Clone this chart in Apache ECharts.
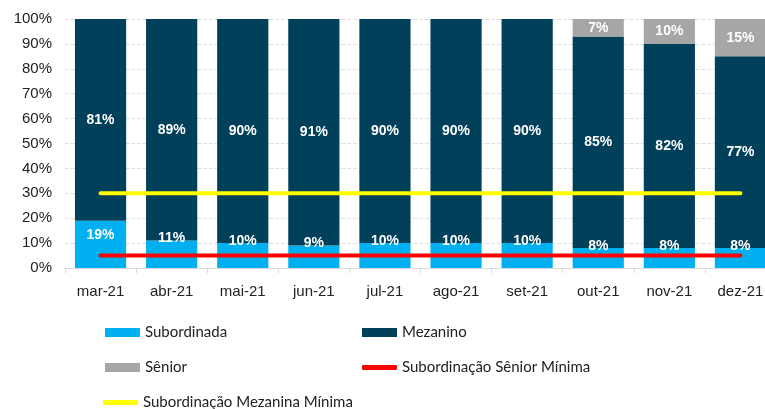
<!DOCTYPE html>
<html>
<head>
<meta charset="utf-8">
<script src="https://cdn.jsdelivr.net/npm/echarts@6/dist/echarts.min.js"></script>
<style>
  html, body { margin: 0; padding: 0; background: #fff; }
  #chart { width: 765px; height: 409px; }
</style>
</head>
<body>
<div id="chart"></div>
<script>
const categories = ['mar-21', 'abr-21', 'mai-21', 'jun-21', 'jul-21', 'ago-21', 'set-21', 'out-21', 'nov-21', 'dez-21'];
const subordinada = [19, 11, 10, 9, 10, 10, 10, 8, 8, 8];
const mezanino = [81, 89, 90, 91, 90, 90, 90, 85, 82, 77];
const senior = [0, 0, 0, 0, 0, 0, 0, 7, 10, 15];
const minSenior = [5, 5, 5, 5, 5, 5, 5, 5, 5, 5];
const minMezanino = [30, 30, 30, 30, 30, 30, 30, 30, 30, 30];

const font = '"Liberation Sans Narrow", "Liberation Sans", Arial, sans-serif';

const barLabel = {
  show: true,
  position: 'inside',
  color: '#fff',
  fontWeight: 'bold',
  fontSize: 14,
  fontFamily: font,
  formatter: p => p.value > 0 ? p.value + '%' : ''
};

// small segments: Excel puts the label near the top edge
const subData = subordinada.map(v => v < 15
  ? { value: v, label: { position: 'top', distance: -5 } }
  : { value: v, label: { position: 'insideTop', distance: 7 } });

const legendBase = {
  orient: 'horizontal',
  padding: 0,
  itemWidth: 35,
  itemHeight: 9,
  textStyle: { fontSize: 15, color: '#222', fontFamily: 'Lato, "Liberation Sans", sans-serif' }
};
const lineLegend = Object.assign({}, legendBase, { itemHeight: 5 });

const chart = echarts.init(document.getElementById('chart'));
chart.setOption({
  animation: false,
  grid: { left: 65, width: 711, top: 19, bottom: 141, outerBoundsMode: 'none' },
  legend: [
    Object.assign({ left: 105, top: 325, data: [{ name: 'Subordinada', icon: 'rect' }] }, legendBase),
    Object.assign({ left: 362, top: 325, data: [{ name: 'Mezanino', icon: 'rect' }] }, legendBase),
    Object.assign({ left: 105, top: 360, data: [{ name: 'Sênior', icon: 'rect' }] }, legendBase),
    Object.assign({ left: 362, top: 360, data: [{ name: 'Subordinação Sênior Mínima', icon: 'roundRect' }] }, lineLegend),
    Object.assign({ left: 103, top: 395, data: [{ name: 'Subordinação Mezanina Mínima', icon: 'roundRect' }] }, lineLegend)
  ],
  xAxis: {
    type: 'category',
    data: categories,
    axisLine: { lineStyle: { color: '#d9d9d9', width: 1 } },
    axisTick: { show: true, alignWithLabel: false, length: 5, lineStyle: { color: '#d9d9d9' } },
    axisLabel: { color: '#222', fontSize: 15, fontFamily: font, margin: 16 }
  },
  yAxis: {
    type: 'value',
    min: 0,
    max: 100,
    interval: 10,
    axisLine: { show: false },
    axisTick: { show: false },
    axisLabel: { color: '#222', fontSize: 15, fontFamily: font, margin: 13, formatter: '{value}%' },
    splitLine: { lineStyle: { color: '#e0e0e0', type: 'dashed', width: 1 } }
  },
  series: [
    {
      name: 'Subordinada', type: 'bar', stack: 'total', data: subData,
      barCategoryGap: '28%', itemStyle: { color: '#00B0F0' }, label: barLabel
    },
    {
      name: 'Mezanino', type: 'bar', stack: 'total', data: mezanino,
      itemStyle: { color: '#00405A' }, label: barLabel
    },
    {
      name: 'Sênior', type: 'bar', stack: 'total', data: senior,
      itemStyle: { color: '#A6A6A6' }, label: barLabel
    },
    {
      name: 'Subordinação Sênior Mínima', type: 'line', data: minSenior,
      symbol: 'none', lineStyle: { color: '#FF0000', width: 4, cap: 'round' }, itemStyle: { color: '#FF0000' }
    },
    {
      name: 'Subordinação Mezanina Mínima', type: 'line', data: minMezanino,
      symbol: 'none', lineStyle: { color: '#FFFF00', width: 4, cap: 'round' }, itemStyle: { color: '#FFFF00' }
    }
  ]
});
</script>
</body>
</html>
